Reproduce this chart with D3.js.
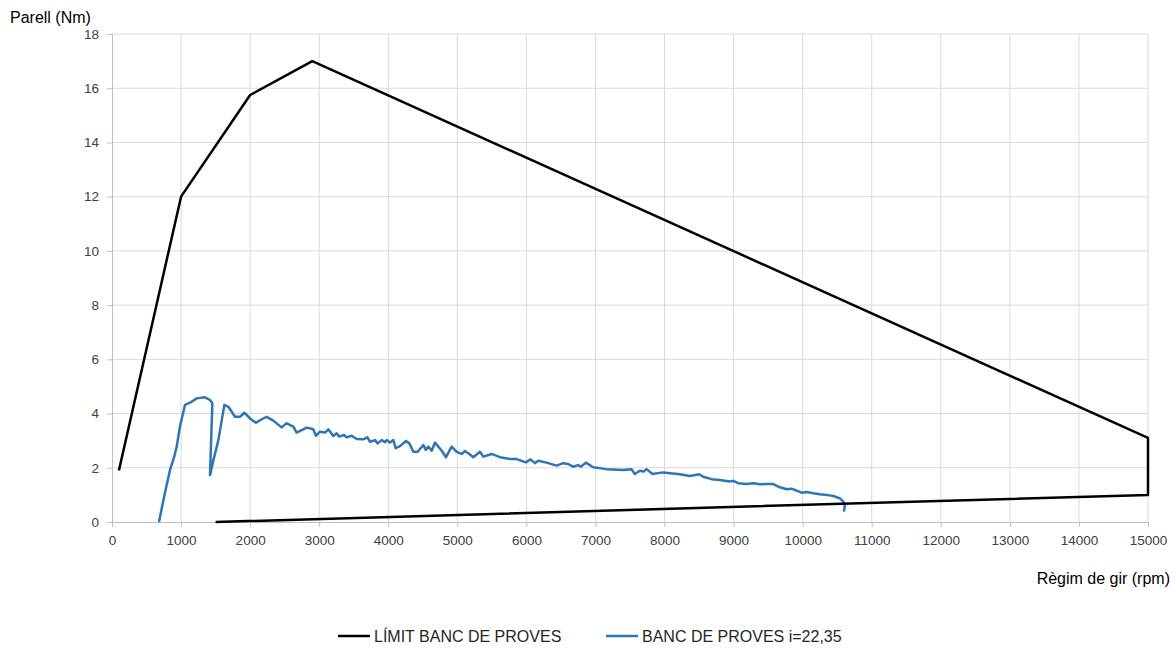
<!DOCTYPE html>
<html>
<head>
<meta charset="utf-8">
<script src="https://cdn.jsdelivr.net/npm/d3@7"></script>
<style>
  body { margin: 0; background: #fff; }
  text { font-family: "Liberation Sans", Arial, sans-serif; }
</style>
</head>
<body>
<svg class="chart"></svg>
<script>
// test-bench limit envelope (rpm, Nm)
var limitRpm = [100, 1000, 2000, 2900, 15000, 15000, 1500];
var limitNm  = [1.9, 12, 15.75, 17, 3.1, 1.0, 0];

var benchRpm = [680, 760, 840, 900, 937, 984, 1057, 1129, 1226, 1346, 1419, 1453, 1419, 1470, 1540, 1627, 1685, 1781, 1853, 1916, 1998, 2085, 2167, 2239, 2335, 2456, 2529, 2625, 2673, 2818, 2914, 2953, 3011, 3084, 3132, 3204, 3253, 3291, 3359, 3398, 3470, 3543, 3639, 3697, 3736, 3808, 3847, 3905, 3953, 3977, 4025, 4073, 4108, 4170, 4257, 4305, 4363, 4426, 4508, 4543, 4581, 4629, 4677, 4725, 4774, 4836, 4918, 4990, 5063, 5111, 5173, 5231, 5328, 5376, 5497, 5617, 5762, 5859, 5993, 6060, 6123, 6171, 6292, 6437, 6532, 6605, 6677, 6750, 6788, 6861, 6967, 7160, 7401, 7521, 7570, 7642, 7700, 7739, 7826, 7980, 8222, 8367, 8502, 8560, 8681, 8802, 8946, 8995, 9067, 9188, 9284, 9381, 9477, 9574, 9671, 9767, 9839, 9912, 9984, 10057, 10153, 10250, 10346, 10443, 10540, 10588, 10612, 10598];
var benchNm  = [0, 1.0, 1.92, 2.4, 2.78, 3.52, 4.32, 4.4, 4.56, 4.6, 4.5, 4.38, 1.73, 2.3, 3.02, 4.32, 4.25, 3.88, 3.88, 4.03, 3.82, 3.66, 3.79, 3.88, 3.74, 3.49, 3.64, 3.52, 3.30, 3.48, 3.42, 3.18, 3.33, 3.30, 3.42, 3.17, 3.27, 3.15, 3.21, 3.12, 3.18, 3.06, 3.05, 3.12, 2.96, 3.02, 2.90, 3.02, 2.94, 3.02, 2.93, 3.02, 2.72, 2.80, 2.99, 2.90, 2.59, 2.59, 2.84, 2.66, 2.78, 2.63, 2.93, 2.78, 2.63, 2.39, 2.78, 2.59, 2.51, 2.62, 2.51, 2.39, 2.59, 2.41, 2.51, 2.39, 2.32, 2.32, 2.20, 2.31, 2.17, 2.26, 2.19, 2.08, 2.17, 2.14, 2.04, 2.10, 2.04, 2.19, 2.02, 1.95, 1.92, 1.95, 1.77, 1.89, 1.86, 1.95, 1.77, 1.83, 1.76, 1.70, 1.76, 1.67, 1.58, 1.55, 1.49, 1.52, 1.43, 1.40, 1.43, 1.39, 1.40, 1.40, 1.28, 1.21, 1.23, 1.16, 1.08, 1.11, 1.06, 1.02, 1.00, 0.96, 0.87, 0.75, 0.63, 0.38];

var xTicks = d3.range(0, 15001, 1000);
var yTicks = d3.range(0, 19, 2);

var seriesNames = ["LÍMIT BANC DE PROVES", "BANC DE PROVES i=22,35"];
var seriesColors = ["#000000", "#2e75b6"];

var svgWidth = 1176, svgHeight = 648;
var margin = {top: 34, right: 28, bottom: 126, left: 112};
var width = svgWidth - margin.left - margin.right;
var height = svgHeight - margin.top - margin.bottom;

var svg = d3.select(".chart")
    .attr("width", svgWidth)
    .attr("height", svgHeight);

var g = svg.append("g")
    .attr("transform", "translate(" + margin.left + "," + margin.top + ")");

var x = d3.scaleLinear().domain([0, 15000]).range([0, width]);
var y = d3.scaleLinear().domain([0, 18]).range([height, 0]);

// gridlines
g.append("g")
    .selectAll("line.gx")
    .data(xTicks.slice(1))
    .enter().append("line")
    .attr("x1", function(d) { return x(d); })
    .attr("x2", function(d) { return x(d); })
    .attr("y1", 0).attr("y2", height)
    .attr("stroke", "#d9d9d9").attr("stroke-width", 1);

g.append("g")
    .selectAll("line.gy")
    .data(yTicks.slice(1))
    .enter().append("line")
    .attr("x1", 0).attr("x2", width)
    .attr("y1", function(d) { return y(d); })
    .attr("y2", function(d) { return y(d); })
    .attr("stroke", "#d9d9d9").attr("stroke-width", 1);

// axes
var xAxis = g.append("g")
    .attr("transform", "translate(0," + height + ")")
    .call(d3.axisBottom(x).tickValues(xTicks).tickFormat(d3.format("d")).tickSize(5).tickPadding(8));

var yAxis = g.append("g")
    .call(d3.axisLeft(y).tickValues(yTicks).tickSize(5).tickPadding(8));

[xAxis, yAxis].forEach(function(a) {
  a.select(".domain").attr("stroke", "#bfbfbf");
  a.selectAll(".tick line").attr("stroke", "#bfbfbf");
  a.selectAll(".tick text")
      .attr("fill", "#404040")
      .style("font-size", "13.5px")
      .style("font-family", "'Liberation Sans', Arial, sans-serif");
});

// axis titles
svg.append("text")
    .attr("x", 10).attr("y", 23)
    .style("font-size", "16px")
    .attr("fill", "#000")
    .text("Parell (Nm)");

svg.append("text")
    .attr("x", 1170).attr("y", 584)
    .style("text-anchor", "end")
    .style("font-size", "16px")
    .attr("fill", "#000")
    .text("Règim de gir (rpm)");

var line = d3.line()
    .x(function(d) { return x(d[0]); })
    .y(function(d) { return y(d[1]); });

var limitData = limitRpm.map(function(r, i) { return [r, limitNm[i]]; });
var benchData = benchRpm.map(function(r, i) { return [r, benchNm[i]]; });

g.append("path")
    .datum(benchData)
    .attr("fill", "none")
    .attr("stroke", seriesColors[1])
    .attr("stroke-width", 2.5)
    .attr("stroke-linejoin", "round")
    .attr("d", line);

g.append("path")
    .datum(limitData)
    .attr("fill", "none")
    .attr("stroke", seriesColors[0])
    .attr("stroke-width", 2.5)
    .attr("stroke-linejoin", "round")
    .attr("d", line);

// legend
var legendX = [338, 606];
var legend = svg.append("g");
seriesNames.forEach(function(name, i) {
  legend.append("line")
      .attr("x1", legendX[i]).attr("x2", legendX[i] + 32)
      .attr("y1", 636).attr("y2", 636)
      .attr("stroke", seriesColors[i])
      .attr("stroke-width", 2.5);
  legend.append("text")
      .attr("x", legendX[i] + 36).attr("y", 642)
      .style("font-size", "16px")
      .attr("fill", "#262626")
      .text(name);
});
</script>
</body>
</html>
